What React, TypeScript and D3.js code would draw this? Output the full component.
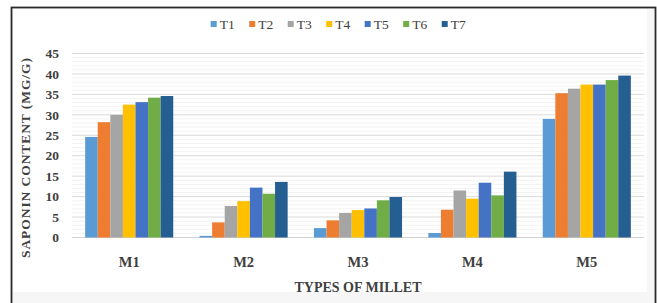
import React from "react";
import * as d3 from "d3";

const categories = ["M1", "M2", "M3", "M4", "M5"];
const seriesNames = ["T1", "T2", "T3", "T4", "T5", "T6", "T7"];
const T1 = [24.6, 0.4, 2.3, 1.1, 29.0];
const T2 = [28.2, 3.7, 4.2, 6.8, 35.3];
const T3 = [30.0, 7.7, 6.0, 11.5, 36.4];
const T4 = [32.5, 8.9, 6.7, 9.5, 37.4];
const T5 = [33.1, 12.2, 7.1, 13.4, 37.4];
const T6 = [34.2, 10.7, 9.1, 10.3, 38.5];
const T7 = [34.6, 13.6, 9.9, 16.1, 39.6];
const seriesValues = [T1, T2, T3, T4, T5, T6, T7];
const colors = ["#5B9BD5", "#ED7D31", "#A5A5A5", "#FFC000", "#4472C4", "#70AD47", "#255E91"];
const yTicks = [0, 5, 10, 15, 20, 25, 30, 35, 40, 45];
const yTitle = "SAPONIN CONTENT (MG/G)";
const xTitle = "TYPES OF MILLET";

const W = 657;
const H = 303;
const plotLeft = 72;
const plotRight = 644;
const yZero = 237.5;
const yTop = 53.5;
const font = "'Liberation Serif', 'Times New Roman', serif";

export default function App() {
  const x0 = d3.scaleBand<string>().domain(categories).range([plotLeft, plotRight]).paddingInner(0.23).paddingOuter(0.115);
  const x1 = d3.scaleBand<string>().domain(seriesNames).range([0, x0.bandwidth()]).padding(0);
  const y = d3.scaleLinear().domain([0, 45]).range([yZero, yTop]);
  const minor = d3.range(0, 46, 1).filter((v) => v % 5 !== 0);
  const legendStart = 210.7;
  const legendStep = 38.5;

  return (
    <svg width={W} height={H} style={{ position: "absolute", left: 0, top: 0, display: "block" }}>
      <rect x={0} y={0} width={W} height={H} fill="#ffffff" />
      <rect x={11.5} y={7.5} width={644} height={310} fill="#f6f6f6" stroke="#2b2b2b" strokeWidth={1.8} />
      <rect x={13} y={9} width={634} height={283} fill="#ffffff" />
      {minor.map((v) => (
        <line key={"m" + v} x1={plotLeft} x2={plotRight} y1={y(v)} y2={y(v)} stroke="#f3f3f3" strokeWidth={1} />
      ))}
      {yTicks.map((v) => (
        <line key={"g" + v} x1={plotLeft} x2={plotRight} y1={y(v)} y2={y(v)} stroke={v === 0 ? "#d0d0d0" : "#dadada"} strokeWidth={1} />
      ))}
      {yTicks.map((v) => (
        <text key={"t" + v} x={59} y={y(v)} dy="0.35em" textAnchor="end" fontFamily={font} fontWeight="bold" fontSize={13.5} fill="#404040">
          {v}
        </text>
      ))}
      {categories.map((c, ci) => (
        <g key={c} transform={`translate(${x0(c)},0)`}>
          {seriesNames.map((s, si) => {
            const v = seriesValues[si][ci];
            return (
              <rect key={s} x={x1(s)} y={y(v)} width={x1.bandwidth()} height={yZero - y(v)} fill={colors[si]} />
            );
          })}
        </g>
      ))}
      {categories.map((c) => (
        <text key={"c" + c} x={(x0(c) as number) + x0.bandwidth() / 2} y={262} dy="0.35em" textAnchor="middle" fontFamily={font} fontWeight="bold" fontSize={14.5} fill="#404040">
          {c}
        </text>
      ))}
      <text x={358} y={287} dy="0.35em" textAnchor="middle" fontFamily={font} fontWeight="bold" fontSize={14} fill="#404040">
        {xTitle}
      </text>
      <text transform={`translate(25,158) rotate(-90)`} dy="0.35em" textAnchor="middle" fontFamily={font} fontWeight="bold" fontSize={13.5} fill="#404040" textLength={200} lengthAdjust="spacing">
        {yTitle}
      </text>
      {seriesNames.map((s, i) => (
        <g key={"l" + s} transform={`translate(${legendStart + i * legendStep},24)`}>
          <rect x={0} y={-3} width={6} height={6} fill={colors[i]} />
          <text x={9} y={0} dy="0.35em" fontFamily={font} fontSize={13.5} fill="#404040">
            {s}
          </text>
        </g>
      ))}
    </svg>
  );
}
